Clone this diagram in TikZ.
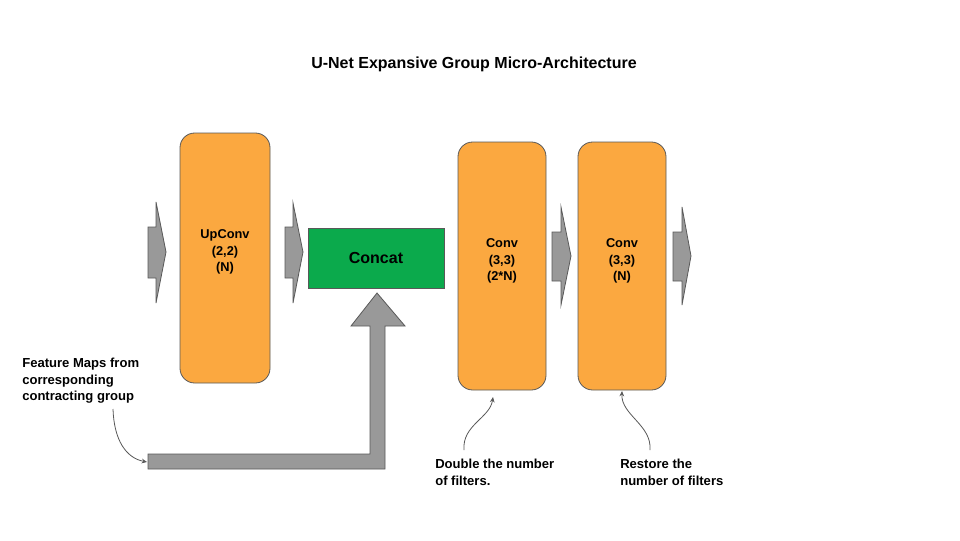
\documentclass[tikz,border=0pt]{standalone}
\usepackage{fontspec}
\setmainfont{Liberation Sans}
\usetikzlibrary{arrows.meta}
\definecolor{boxorange}{RGB}{251,168,64}
\definecolor{boxgreen}{RGB}{11,170,76}
\definecolor{arrgray}{RGB}{153,153,153}
\definecolor{edgegray}{RGB}{89,89,89}
\begin{document}
\begin{tikzpicture}[x=0.75pt,y=-0.75pt,
  convbox/.style={draw=edgegray,line width=0.6pt,fill=boxorange,rounded corners=11pt,inner sep=0pt},
  boxtext/.style={font=\bfseries\fontsize{9.6}{12.4}\selectfont,align=center,inner sep=0pt},
  catbox/.style={draw=edgegray,line width=0.6pt,fill=boxgreen,
    font=\bfseries\fontsize{12}{14}\selectfont,inner sep=0pt},
  blockarrow/.style={draw=edgegray,line width=0.6pt,fill=arrgray},
  note/.style={font=\bfseries\fontsize{9.8}{12.4}\selectfont,align=left,anchor=north west,inner sep=0pt},
  callout/.style={draw=edgegray,line width=0.6pt,-{Stealth[length=4pt,width=3.5pt]}}]
\useasboundingbox (0,0) rectangle (960,540);
\fill[white] (0,0) rectangle (960,540);

\node[font=\bfseries\fontsize{12}{14}\selectfont] (title) at (474,64) {U-Net Expansive Group Micro-Architecture};

% boxes
\node[convbox,minimum width=67.5pt,minimum height=187.5pt,
  label={[boxtext,yshift=4.5pt]center:UpConv\\(2,2)\\(N)}] (upconv) at (225,258) {};
\node[catbox,minimum width=102pt,minimum height=45pt] (concat) at (376,258) {Concat};
\node[convbox,minimum width=66pt,minimum height=186pt,
  label={[boxtext,yshift=3.8pt]center:Conv\\(3,3)\\(2*N)}] (conv1) at (502,266) {};
\node[convbox,minimum width=66pt,minimum height=186pt,
  label={[boxtext,yshift=3.8pt]center:Conv\\(3,3)\\(N)}] (conv2) at (622,266) {};

% block arrows
\draw[blockarrow] (148,227) -- (156,227) -- (156,202) -- (166,252) -- (156,303) -- (156,278) -- (148,278) -- cycle;
\draw[blockarrow] (285,227) -- (293,227) -- (293,203) -- (303,252) -- (293,303) -- (293,278) -- (285,278) -- cycle;
\draw[blockarrow] (552,232) -- (561,232) -- (561,207) -- (571,256) -- (561,305) -- (561,281) -- (552,281) -- cycle;
\draw[blockarrow] (673,232) -- (682,232) -- (682,207) -- (691,256) -- (682,305) -- (682,281) -- (673,281) -- cycle;

% skip connection arrow
\draw[blockarrow] (148,454) -- (370,454) -- (370,326) -- (351,326) -- (377,293) -- (405,326) -- (385,326) -- (385,469) -- (148,469) -- cycle;
\coordinate (skiptail) at (147,462);

% notes
\node[note] (fmaps) at (22,358) {Feature Maps from\\corresponding\\contracting group};
\node[note] (double) at (435,459) {Double the number\\of filters.};
\node[note] (restore) at (620,459) {Restore the\\number of filters};

\coordinate (c1) at (113,409);
\coordinate (c2) at (464,450);
\coordinate (c3) at (650,450);
\coordinate (t2) at (493,397);
\coordinate (t3) at (622,391);
\draw[callout] (c1) .. controls (114,440) and (126,458) .. (skiptail);
\draw[callout] (c2) .. controls (462,425) and (490,418) .. (t2);
\draw[callout] (c3) .. controls (652,425) and (621,415) .. (t3);
\end{tikzpicture}
\end{document}
